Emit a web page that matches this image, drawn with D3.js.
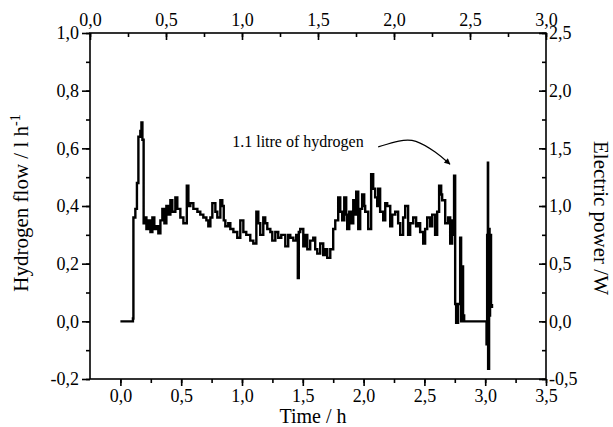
<!DOCTYPE html>
<html>
<head>
<meta charset="utf-8">
<script src="https://cdn.jsdelivr.net/npm/d3@7/dist/d3.min.js"></script>
<style>
  body { margin: 0; background: #fff; }
</style>
</head>
<body>
<div id="chart"></div>
<script>
// hydrogen flow readings, time in hours
const timeH = [0.000, 0.090, 0.103, 0.107, 0.123, 0.136, 0.148, 0.164, 0.173, 0.181, 0.191, 0.205, 0.214, 0.230, 0.247,
  0.263, 0.279, 0.296, 0.312, 0.329, 0.345, 0.362, 0.378, 0.394, 0.411, 0.427, 0.452, 0.468, 0.493, 0.518,
  0.546, 0.559, 0.575, 0.600, 0.633, 0.657, 0.682, 0.707, 0.723, 0.740, 0.756, 0.781, 0.797, 0.822, 0.838,
  0.850, 0.863, 0.887, 0.904, 0.929, 0.961, 0.986, 1.011, 1.035, 1.068, 1.093, 1.118, 1.134, 1.150, 1.175,
  1.191, 1.208, 1.233, 1.249, 1.274, 1.298, 1.323, 1.356, 1.380, 1.397, 1.422, 1.446, 1.459, 1.467, 1.479,
  1.504, 1.520, 1.537, 1.561, 1.586, 1.602, 1.619, 1.643, 1.668, 1.684, 1.701, 1.726, 1.742, 1.750, 1.767,
  1.791, 1.808, 1.824, 1.841, 1.857, 1.865, 1.882, 1.898, 1.915, 1.931, 1.939, 1.956, 1.972, 1.988, 2.005,
  2.013, 2.038, 2.062, 2.079, 2.095, 2.112, 2.120, 2.136, 2.161, 2.178, 2.194, 2.219, 2.235, 2.260, 2.284,
  2.301, 2.325, 2.342, 2.366, 2.383, 2.408, 2.432, 2.449, 2.465, 2.490, 2.506, 2.523, 2.547, 2.564, 2.588,
  2.605, 2.621, 2.638, 2.646, 2.671, 2.695, 2.712, 2.728, 2.736, 2.744, 2.753, 2.761, 2.777, 2.794, 2.802,
  2.810, 2.818, 2.827, 3.007, 3.011, 3.016, 3.022, 3.024, 3.032, 3.036, 3.040, 3.048, 3.056];
const flow = [0.00, 0.00, 0.01, 0.36, 0.39, 0.48, 0.64, 0.66, 0.69, 0.63, 0.34, 0.36, 0.32, 0.35, 0.31,
  0.36, 0.32, 0.33, 0.305, 0.35, 0.39, 0.34, 0.40, 0.37, 0.42, 0.38, 0.43, 0.39, 0.36, 0.34,
  0.47, 0.40, 0.41, 0.39, 0.38, 0.37, 0.36, 0.35, 0.33, 0.36, 0.41, 0.38, 0.36, 0.42, 0.40,
  0.35, 0.33, 0.34, 0.32, 0.31, 0.29, 0.35, 0.31, 0.30, 0.28, 0.27, 0.38, 0.34, 0.30, 0.36,
  0.34, 0.32, 0.31, 0.28, 0.31, 0.29, 0.30, 0.26, 0.30, 0.29, 0.28, 0.30, 0.15, 0.31, 0.32,
  0.26, 0.30, 0.25, 0.28, 0.29, 0.25, 0.235, 0.27, 0.23, 0.25, 0.22, 0.25, 0.25, 0.32, 0.35,
  0.43, 0.38, 0.35, 0.43, 0.37, 0.32, 0.38, 0.34, 0.42, 0.37, 0.45, 0.32, 0.39, 0.44, 0.40,
  0.38, 0.32, 0.51, 0.46, 0.43, 0.40, 0.46, 0.38, 0.35, 0.41, 0.40, 0.33, 0.37, 0.38, 0.34,
  0.30, 0.36, 0.40, 0.30, 0.34, 0.36, 0.33, 0.34, 0.31, 0.27, 0.32, 0.36, 0.33, 0.37, 0.30,
  0.38, 0.47, 0.44, 0.42, 0.34, 0.36, 0.27, 0.35, 0.30, 0.505, 0.06, -0.005, 0.06, 0.29, 0.00,
  0.19, 0.02, 0.00, 0.00, -0.08, 0.30, 0.55, -0.165, 0.32, 0.02, 0.30, 0.05, 0.06];

const bottomTicks = [0, 0.5, 1.0, 1.5, 2.0, 2.5, 3.0, 3.5];
const topTicks = [0, 0.5, 1.0, 1.5, 2.0, 2.5, 3.0];
const leftTicks = [-0.2, 0, 0.2, 0.4, 0.6, 0.8, 1.0];
const rightTicks = [-0.5, 0, 0.5, 1.0, 1.5, 2.0, 2.5];

// annotation arrow path, in data units
const arrowT = [2.12, 2.30, 2.42, 2.60, 2.71];
const arrowV = [0.605, 0.628, 0.633, 0.586, 0.545];

const FONT = '"Liberation Serif", "Times New Roman", serif';

const width = 613, height = 427;
const margin = { top: 33, right: 67, bottom: 48, left: 90 };
const iw = width - margin.left - margin.right;
const ih = height - margin.top - margin.bottom;

// comma decimals, plain hyphen for negatives
const comma = d => d3.format(".1f")(d).replace(".", ",").replace("\u2212", "-");

const svg = d3.select("#chart").append("svg")
  .attr("width", width)
  .attr("height", height)
  .attr("font-family", FONT);

const g = svg.append("g").attr("transform", `translate(${margin.left},${margin.top})`);

const x = d3.scaleLinear().domain([-0.25, 3.5]).range([0, iw]);
const xTop = d3.scaleLinear().domain([0, 3]).range([0, iw]);
const y = d3.scaleLinear().domain([-0.2, 1.0]).range([ih, 0]);
const yRight = d3.scaleLinear().domain([-0.5, 2.5]).range([ih, 0]);

function minors(scale, step) {
  const [a, b] = scale.domain();
  const out = [];
  for (let v = Math.ceil(a / step) * step; v <= b + 1e-9; v += step) out.push(+v.toFixed(4));
  return out;
}

function styleAxis(sel) {
  sel.attr("font-family", FONT);
  sel.select(".domain").remove();
  sel.selectAll("line").attr("stroke", "#000").attr("stroke-width", 1.6);
  sel.selectAll("text")
    .style("font-family", FONT)
    .style("font-size", "18px")
    .attr("fill", "#000");
}

// bottom
g.append("g").attr("transform", `translate(0,${ih})`)
  .call(d3.axisBottom(x).tickValues(minors(x, 0.25).filter(v => v > -0.2)).tickSize(4).tickFormat(""))
  .call(styleAxis);
g.append("g").attr("transform", `translate(0,${ih})`)
  .call(d3.axisBottom(x).tickValues(bottomTicks).tickSize(7).tickPadding(3).tickFormat(comma))
  .call(styleAxis);

// top
g.append("g")
  .call(d3.axisTop(xTop).tickValues(minors(xTop, 0.25)).tickSize(-4).tickFormat(""))
  .call(styleAxis);
g.append("g")
  .call(d3.axisTop(xTop).tickValues(topTicks).tickSize(-7).tickPadding(7).tickFormat(comma))
  .call(styleAxis);

// left
g.append("g")
  .call(d3.axisLeft(y).tickValues(minors(y, 0.1)).tickSize(4).tickFormat(""))
  .call(styleAxis);
g.append("g")
  .call(d3.axisLeft(y).tickValues(leftTicks).tickSize(8).tickPadding(3).tickFormat(comma))
  .call(styleAxis);

// right
g.append("g").attr("transform", `translate(${iw},0)`)
  .call(d3.axisRight(yRight).tickValues(minors(yRight, 0.25)).tickSize(-4).tickFormat(""))
  .call(styleAxis);
g.append("g").attr("transform", `translate(${iw},0)`)
  .call(d3.axisRight(yRight).tickValues(rightTicks).tickSize(-7).tickPadding(3).tickFormat(comma))
  .call(styleAxis);

g.append("rect")
  .attr("width", iw).attr("height", ih)
  .attr("fill", "none").attr("stroke", "#000").attr("stroke-width", 1.6);

// data line
const pts = timeH.map((t, i) => [t, flow[i]]);
g.append("path")
  .datum(pts)
  .attr("fill", "none")
  .attr("stroke", "#000")
  .attr("stroke-width", 2.4)
  .attr("d", d3.line().x(d => x(d[0])).y(d => y(d[1])).curve(d3.curveStepAfter));

// annotation
svg.append("defs").append("marker")
  .attr("id", "head")
  .attr("viewBox", "0 0 10 10")
  .attr("refX", 9).attr("refY", 5)
  .attr("markerWidth", 8).attr("markerHeight", 6)
  .attr("markerUnits", "userSpaceOnUse")
  .attr("orient", "auto")
  .append("path").attr("d", "M0,0L10,5L0,10z").attr("fill", "#000");

g.append("path")
  .datum(arrowT.map((t, i) => [t, arrowV[i]]))
  .attr("fill", "none")
  .attr("stroke", "#000")
  .attr("stroke-width", 1.2)
  .attr("marker-end", "url(#head)")
  .attr("d", d3.line().x(d => x(d[0])).y(d => y(d[1])).curve(d3.curveBasis));

g.append("text")
  .attr("x", x(2.12) - 146)
  .attr("y", y(0.605))
  .style("font-family", FONT)
  .style("font-size", "16px")
  .text("1.1 litre of hydrogen");

// axis titles
svg.append("text")
  .attr("x", 313).attr("y", 423)
  .attr("text-anchor", "middle")
  .style("font-family", FONT)
  .style("font-size", "20px")
  .text("Time / h");

const lt = svg.append("text")
  .attr("transform", "translate(28,203) rotate(-90)")
  .attr("text-anchor", "middle")
  .style("font-family", FONT)
  .style("font-size", "21px");
lt.append("tspan").text("Hydrogen flow / l h");
lt.append("tspan").attr("dy", -8).style("font-size", "14px").text("-1");

svg.append("text")
  .attr("transform", "translate(594,218) rotate(90)")
  .attr("text-anchor", "middle")
  .style("font-family", FONT)
  .style("font-size", "21px")
  .text("Electric power /W");
</script>
</body>
</html>
